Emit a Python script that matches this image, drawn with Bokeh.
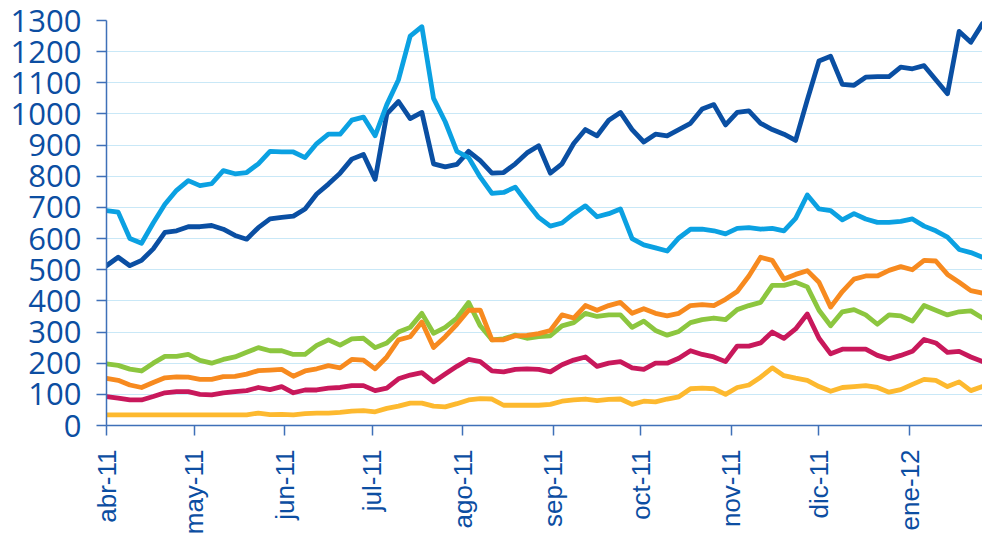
import math
import pandas as pd
from bokeh.plotting import figure
from bokeh.models import FixedTicker, Range1d
from bokeh.embed import file_html
from bokeh.resources import INLINE

# ---------------- data ----------------
start = pd.Timestamp("2011-04-01")
dates = pd.date_range(start, periods=76, freq="4D")
days = [(d - start).days for d in dates]

tick_dates = ["2011-04-01", "2011-05-01", "2011-06-01", "2011-07-01", "2011-08-01",
              "2011-09-01", "2011-10-01", "2011-11-01", "2011-12-01", "2012-01-01"]
tick_labels = ["abr-11", "may-11", "jun-11", "jul-11", "ago-11",
               "sep-11", "oct-11", "nov-11", "dic-11", "ene-12"]

dark_blue = [513, 540, 513, 530, 567, 620, 625, 638, 638, 642, 630, 610, 598, 635, 663, 668,
             672, 695, 743, 775, 810, 855, 870, 790, 1000, 1040, 985, 1005, 840, 830, 838, 880,
             850, 810, 812, 840, 875, 898, 810, 840, 905, 950, 930, 980, 1005, 950, 910, 935,
             930, 950, 970, 1016, 1030, 965, 1005, 1010, 970, 950, 935, 915, 1045, 1170, 1185, 1095,
             1092, 1118, 1120, 1120, 1150, 1145, 1155, 1110, 1065, 1265, 1230, 1290]

light_blue = [690, 685, 600, 585, 650, 710, 755, 786, 770, 776, 818, 808, 812, 840, 880, 878,
              878, 860, 905, 935, 935, 980, 990, 930, 1030, 1110, 1250, 1280, 1050, 975, 880, 860,
              797, 745, 748, 765, 715, 668, 640, 650, 680, 705, 670, 680, 695, 600, 580, 570,
              560, 602, 630, 630, 625, 615, 633, 635, 630, 633, 625, 665, 740, 695, 690, 660,
              680, 663, 652, 652, 655, 663, 640, 625, 605, 565, 555, 540]

orange = [151, 145, 130, 122, 138, 153, 156, 155, 148, 148, 157, 158, 165, 176, 178, 180,
          158, 175, 182, 192, 185, 212, 210, 182, 220, 275, 285, 332, 250, 285, 325, 370,
          370, 275, 275, 288, 289, 295, 305, 355, 345, 385, 370, 385, 395, 360, 375, 360,
          352, 360, 385, 388, 385, 405, 430, 480, 540, 530, 470, 485, 497, 460, 380, 430,
          470, 480, 480, 498, 510, 500, 530, 528, 485, 460, 433, 425]

green = [198, 193, 181, 175, 200, 222, 222, 228, 209, 200, 212, 220, 235, 250, 240, 240,
         228, 228, 257, 275, 258, 278, 280, 250, 265, 300, 315, 360, 296, 315, 345, 395,
         320, 275, 278, 290, 280, 285, 288, 320, 330, 360, 350, 355, 355, 315, 335, 305,
         290, 302, 330, 340, 345, 340, 372, 385, 395, 450, 450, 460, 445, 370, 320, 365,
         372, 355, 325, 355, 352, 335, 385, 370, 355, 365, 368, 345]

crimson = [93, 88, 82, 82, 93, 105, 109, 109, 100, 98, 105, 109, 112, 122, 115, 125,
           105, 114, 114, 120, 122, 128, 128, 112, 120, 150, 162, 170, 140, 165, 190, 212,
           205, 175, 172, 180, 182, 180, 172, 195, 210, 220, 190, 200, 205, 185, 180, 200,
           200, 216, 240, 228, 220, 205, 255, 255, 265, 300, 280, 310, 358, 280, 230, 245,
           245, 245, 225, 214, 225, 238, 276, 265, 235, 238, 220, 205]

yellow = [34, 34, 34, 34, 34, 34, 34, 34, 34, 34, 34, 34, 34, 40, 35, 36,
          34, 38, 40, 40, 42, 46, 48, 44, 55, 62, 72, 72, 62, 60, 70, 82,
          86, 85, 65, 65, 65, 65, 68, 78, 82, 85, 80, 84, 85, 68, 78, 76,
          85, 92, 118, 120, 118, 100, 122, 130, 155, 185, 160, 152, 145, 125, 110, 122,
          125, 128, 122, 107, 115, 132, 148, 145, 125, 140, 112, 125]

# ---------------- figure ----------------
tick_days = [(pd.Timestamp(t) - start).days for t in tick_dates]
PX_PER_DAY = 2.92
x_end = 876 / PX_PER_DAY

p = figure(width=982, height=544, x_range=Range1d(0, x_end), y_range=Range1d(0, 1300),
           output_backend="svg", toolbar_location=None,
           min_border_left=106, min_border_right=0, min_border_top=20, min_border_bottom=119)
p.outline_line_color = None
p.background_fill_color = "white"
p.border_fill_color = "white"

axis_col = "#3f70b8"
label_col = "#0c4ea2"

p.xgrid.grid_line_color = None
p.ygrid.grid_line_color = "#c9e8f7"
p.ygrid.grid_line_width = 1.2

p.yaxis.ticker = FixedTicker(ticks=list(range(0, 1301, 100)))
p.yaxis.axis_line_color = axis_col
p.yaxis.axis_line_width = 1.5
p.yaxis.major_tick_line_color = axis_col
p.yaxis.major_tick_line_width = 1.5
p.yaxis.major_tick_out = 10
p.yaxis.major_tick_in = 0
p.yaxis.minor_tick_line_color = None
p.yaxis.major_label_standoff = 15
p.yaxis.major_label_text_font = "Open Sans"
p.yaxis.major_label_text_font_size = "31px"
p.yaxis.major_label_text_color = label_col

p.xaxis.ticker = FixedTicker(ticks=tick_days)
p.xaxis.major_label_overrides = {d: lab for d, lab in zip(tick_days, tick_labels)}
p.xaxis.major_label_orientation = math.pi / 2
p.xaxis.axis_line_color = axis_col
p.xaxis.axis_line_width = 1.5
p.xaxis.major_tick_line_color = axis_col
p.xaxis.major_tick_line_width = 1.5
p.xaxis.major_tick_out = 10
p.xaxis.major_tick_in = 0
p.xaxis.minor_tick_line_color = None
p.xaxis.major_label_standoff = 14
p.xaxis.major_label_text_font = "Liberation Sans"
p.xaxis.major_label_text_font_size = "26px"
p.xaxis.major_label_text_color = label_col

series = [
    (dark_blue, "#0a4fa3"),
    (light_blue, "#0ba1e2"),
    (green, "#8cc63f"),
    (orange, "#f78a1f"),
    (crimson, "#c8185b"),
    (yellow, "#fdb92f"),
]
for vals, col in series:
    p.line(days, vals, line_color=col, line_width=4.8, line_join="round", line_cap="round")

open("out.html", "w").write(file_html(p, INLINE))
